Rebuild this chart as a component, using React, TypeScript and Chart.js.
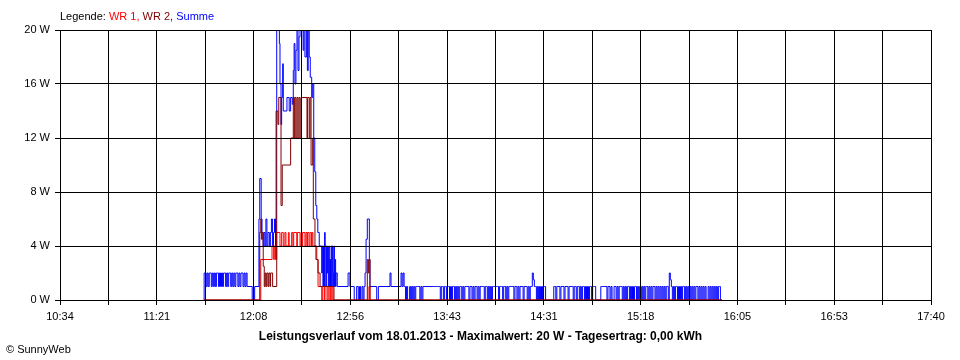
import React, { useEffect, useRef } from "react";
import { Chart, registerables } from "chart.js";

Chart.register(...registerables);

// X axis: minutes after 10:34 (axis spans 10:34 → 17:40 = 426 min, 18 grid divisions)
const tickLabels = ["10:34", "11:21", "12:08", "12:56", "13:43", "14:31", "15:18", "16:05", "16:53", "17:40"];
const axisSpanMinutes = 426;
const gridDivisions = 18;
const yTicks = [0, 4, 8, 12, 16, 20];

// Change points [minute after 10:34, watts]; each value holds until the next point.
const wr1Points: number[][] = [
  [70.5, 0], [98.2, 3], [103.7, 4], [104.5, 3], [104.8, 4], [105.4, 3], [106.0, 5], [107.6, 4],
  [108.4, 5], [109.2, 4], [110.0, 5], [110.5, 4], [111.7, 5], [112.1, 4], [113.3, 5], [113.9, 4],
  [114.3, 5], [115.8, 4], [116.1, 5], [117.4, 4], [117.9, 5], [118.4, 4], [118.7, 5], [119.8, 4],
  [120.3, 5], [120.8, 4], [121.1, 5], [121.8, 4], [122.3, 5], [123.0, 4], [123.3, 5], [123.7, 4],
  [125.6, 3], [126.2, 1], [128.0, 0], [128.5, 1], [129.3, 0], [129.6, 1], [130.6, 0], [131.1, 1],
  [131.6, 0], [132.2, 1], [132.5, 0], [133.0, 1], [133.5, 0], [151.1, 1], [151.6, 0], [323.8, 0],
];

const wr2Points: number[][] = [
  [70.5, 0], [97.7, 5], [98.2, 6], [98.5, 4.5], [98.9, 5], [99.4, 2.5], [99.9, 1], [100.3, 2],
  [100.7, 1], [101.1, 2], [101.7, 1], [102.1, 2], [102.7, 1], [103.0, 2], [104.0, 1], [106.0, 14],
  [106.6, 13], [107.0, 15], [108.1, 7], [108.7, 10], [112.8, 12], [114.1, 15], [114.6, 12], [114.9, 15],
  [115.4, 12], [115.9, 15], [116.4, 12], [116.9, 15], [117.4, 12], [117.9, 15], [120.8, 12], [121.1, 15],
  [121.9, 12], [122.3, 15], [122.8, 10], [123.6, 12], [123.9, 6], [124.7, 4], [125.2, 3], [126.2, 2],
  [127.2, 1], [134.0, 0], [150.3, 3], [150.8, 2], [151.1, 3], [151.6, 0], [323.8, 0],
];

// Summe: 30-second samples at the start (from minute 70.5) ...
const sumSampleStep = 0.5;
const sumStartT = 70.5;
const sumStartSamples = [
  2, 2, 1, 2, 1, 2, 2, 1, 2, 1, 2, 1, 2, 2, 1, 2, 1, 2, 1, 2,
  2, 1, 2, 1, 2, 2, 1, 2, 1, 2, 1, 2, 2, 1, 2, 1, 2, 2, 1, 2,
  1, 2,
];

// ... change points through the midday peak ...
const sumMidPoints: number[][] = [
  [91.5, 1], [94.0, 0], [95.2, 1],
  [97.3, 6], [97.7, 9], [98.4, 6], [98.8, 5], [99.3, 4], [99.8, 5], [100.3, 4], [100.7, 6],
  [101.2, 4], [101.7, 5], [102.4, 4], [102.9, 5], [103.4, 6], [103.9, 4], [104.4, 5], [104.9, 6],
  [105.4, 4], [105.7, 14], [106.0, 20], [107.3, 19], [107.6, 16], [108.1, 13], [108.4, 15], [108.9, 17.5],
  [109.2, 14], [111.0, 15], [112.1, 14], [112.8, 15], [113.6, 14.5], [114.1, 17], [114.5, 19], [114.9, 16],
  [115.4, 18.5], [115.9, 20], [116.4, 17], [116.9, 19.5], [117.4, 20], [118.9, 18.5], [119.3, 20], [119.8, 18],
  [120.5, 20], [121.0, 17], [121.4, 20], [121.9, 18], [122.4, 16.5], [123.1, 15], [123.6, 16], [124.1, 12],
  [124.6, 9.5], [125.1, 7], [125.6, 6], [126.1, 5], [126.8, 4],
  [128.0, 2], [128.3, 4], [128.6, 1], [128.9, 4], [129.1, 1], [129.4, 5], [129.7, 4], [130.0, 1],
  [130.3, 4], [130.6, 2], [130.9, 4], [131.2, 1], [131.5, 4], [131.7, 1], [132.0, 3], [132.3, 1],
  [132.6, 4], [132.9, 1], [133.2, 4], [133.5, 2], [133.7, 1], [134.0, 4], [134.2, 1], [134.5, 3],
  [134.8, 1], [135.0, 2], [135.6, 1], [140.9, 2], [141.8, 1],
  [143.9, 0], [145.1, 1], [145.9, 0], [146.5, 1], [147.0, 0], [147.7, 1], [148.2, 0], [148.7, 1],
  [149.2, 2], [149.7, 4.5], [150.3, 6], [151.3, 3], [151.6, 1], [154.9, 0], [155.7, 1],
  [161.4, 2], [161.9, 1], [166.8, 2], [167.3, 1], [167.8, 2], [168.3, 1],
];

// ... and 30-second samples of the afternoon 0/1 W band (from minute 168.5).
const sumBandT = 168.5;
const sumBandSamples = [
  1, 0, 1, 0, 0, 1, 0, 1, 0, 1,
  0, 1, 1, 1, 1, 0, 1, 0, 1, 1,
  1, 1, 1, 1, 1, 1, 1, 1, 1, 1,
  1, 1, 1, 1, 1, 0, 1, 1, 0, 1,
  1, 0, 1, 1, 0, 1, 0, 1, 1, 0,
  1, 0, 1, 0, 1, 1, 0, 1, 0, 1,
  1, 1, 1, 0, 1, 1, 0, 1, 0, 1,
  1, 0, 1, 0, 1, 1, 1, 1, 0, 1,
  1, 0, 1, 0, 1, 0, 1, 1, 1, 1,
  1, 1, 0, 1, 1, 1, 0, 1, 1, 0,
  1, 0, 1, 1, 1, 1, 1, 0, 1, 1,
  0, 1, 0, 1, 1, 1, 0, 1, 1, 1,
  0, 1, 0, 1, 1, 2, 1.5, 1, 1, 0,
  1, 0, 1, 0, 1, 0, 1, 1, 0, 0,
  0, 0, 0, 0, 0, 0, 1, 1, 0, 1,
  1, 1, 0, 1, 1, 1, 0, 1, 1, 1,
  0, 1, 1, 1, 1, 0, 1, 1, 0, 1,
  1, 0, 1, 0, 1, 1, 0, 1, 0, 1,
  0, 1, 1, 0, 1, 1, 1, 0, 0, 0,
  0, 0, 1, 1, 1, 1, 1, 1, 0, 1,
  1, 0, 1, 0, 0, 1, 1, 0, 1, 0,
  1, 1, 1, 0, 1, 0, 1, 0, 1, 1,
  0, 1, 0, 1, 0, 1, 1, 0, 1, 0,
  1, 0, 1, 0, 1, 0, 1, 1, 0, 1,
  0, 1, 0, 1, 1, 0, 1, 0, 1, 0,
  1, 0, 1, 0, 1, 0, 1, 1, 0, 2,
  1.5, 1, 0, 1, 0, 1, 1, 0, 1, 0,
  1, 0, 1, 1, 0, 1, 0, 1, 0, 1,
  0, 1, 0, 1, 0, 1, 1, 0, 1, 0,
  1, 0, 1, 0, 1, 0, 0, 1, 0, 1,
  0, 1, 0, 1, 0, 1, 0, 1, 1, 0,
];
const sumEnd: number[] = [323.6, 0];

const FONT = "'Liberation Sans', Arial, sans-serif";

function buildSum(): number[][] {
  const pts: number[][] = [[sumStartT - 0.1, 0]];
  sumStartSamples.forEach((v, i) => pts.push([sumStartT + i * sumSampleStep, v]));
  sumMidPoints.forEach((p) => pts.push(p));
  sumBandSamples.forEach((v, i) => pts.push([sumBandT + i * sumSampleStep, v]));
  pts.push(sumEnd);
  return pts;
}

export default function App() {
  const canvasRef = useRef<HTMLCanvasElement | null>(null);

  useEffect(() => {
    if (!canvasRef.current) return;
    const lineCommon = {
      borderWidth: 1,
      pointRadius: 0,
      pointHoverRadius: 0,
      fill: false,
      stepped: true as const,
      tension: 0,
    };
    const chart = new Chart(canvasRef.current, {
      type: "line",
      data: {
        datasets: [
          { label: "WR 2", data: wr2Points as any, borderColor: "#800000", ...lineCommon },
          { label: "WR 1", data: wr1Points as any, borderColor: "#ff0000", ...lineCommon },
          { label: "Summe", data: buildSum() as any, borderColor: "#0000ff", ...lineCommon },
        ],
      },
      options: {
        responsive: false,
        animation: false,
        events: [],
        layout: { padding: { left: 0, right: 29, top: 30, bottom: 30 } },
        plugins: { legend: { display: false }, tooltip: { enabled: false }, title: { display: false } },
        scales: {
          x: {
            type: "linear",
            min: 0,
            max: axisSpanMinutes,
            afterBuildTicks: (s: any) => {
              s.ticks = Array.from({ length: gridDivisions + 1 }, (_, i) => ({
                value: (i * axisSpanMinutes) / gridDivisions,
              }));
            },
            afterFit: (s: any) => {
              s.height = 30;
            },
            grid: { color: "#000", lineWidth: 1, tickLength: 5, drawTicks: true, z: 1 },
            border: { color: "#000", width: 1, z: 2 },
            ticks: {
              autoSkip: false,
              maxRotation: 0,
              minRotation: 0,
              padding: 5,
              color: "#000",
              font: { family: FONT, size: 11 },
              callback: (_v: any, i: number) => (i % 2 === 0 ? tickLabels[i / 2] : ""),
            },
          },
          y: {
            type: "linear",
            min: 0,
            max: 20,
            afterBuildTicks: (s: any) => {
              s.ticks = yTicks.map((v) => ({ value: v }));
            },
            afterFit: (s: any) => {
              s.width = 60;
            },
            grid: { color: "#000", lineWidth: 1, tickLength: 5, drawTicks: true, z: 1 },
            border: { color: "#000", width: 1, z: 2 },
            ticks: {
              padding: 5,
              color: "#000",
              font: { family: FONT, size: 11 },
              callback: (v: any) => `${v} W`,
            },
          },
        },
      },
    });
    return () => chart.destroy();
  }, []);

  return (
    <div style={{ position: "absolute", left: 0, top: 0, width: 960, height: 360, background: "#fff", fontFamily: FONT }}>
      <canvas ref={canvasRef} width={960} height={360} style={{ position: "absolute", left: 0, top: 0, width: 960, height: 360 }} />
      <div style={{ position: "absolute", left: 60, top: 10, fontSize: 11, lineHeight: "13px", color: "#000", whiteSpace: "nowrap" }}>
        Legende: <span style={{ color: "#ff0000" }}>WR 1,</span> <span style={{ color: "#800000" }}>WR 2,</span>{" "}
        <span style={{ color: "#0000ff" }}>Summe</span>
      </div>
      <div style={{ position: "absolute", left: 0, top: 329, width: 961, textAlign: "center", fontSize: 12, lineHeight: "14px", fontWeight: "bold", color: "#000", whiteSpace: "nowrap" }}>
        Leistungsverlauf vom 18.01.2013 - Maximalwert: 20 W - Tagesertrag: 0,00 kWh
      </div>
      <div style={{ position: "absolute", left: 6, top: 343, fontSize: 11, lineHeight: "13px", color: "#000", whiteSpace: "nowrap" }}>
        © SunnyWeb
      </div>
    </div>
  );
}
